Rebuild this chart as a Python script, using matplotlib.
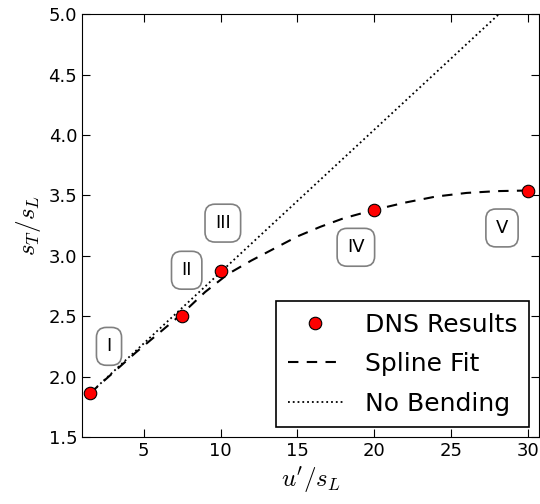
import numpy as np
import matplotlib
matplotlib.use("Agg")
import matplotlib.pyplot as plt

plt.rcParams['mathtext.fontset'] = 'cm'

# DNS data points
u_dns = [1.5, 7.5, 10, 20, 30]
st_dns = [1.86, 2.50, 2.87, 3.38, 3.54]

# spline fit curve
u_fit = [1.5, 3, 4.5, 6, 7.5, 9, 10.5, 12, 13.5, 15, 16.5, 18, 20, 22, 24, 26, 28, 30]
st_fit = [1.86, 2.03, 2.20, 2.36, 2.52, 2.70, 2.85, 2.96, 3.06, 3.16, 3.24, 3.31,
          3.38, 3.44, 3.49, 3.52, 3.535, 3.54]

# no bending line
u_lin = [1.5, 28.1]
st_lin = [1.86, 5.0]

# regime labels
regimes = ['I', 'II', 'III', 'IV', 'V']
reg_u = [2.75, 7.8, 10.15, 18.8, 28.3]
reg_st = [2.25, 2.88, 3.27, 3.07, 3.23]

fig = plt.figure(figsize=(5.4, 5.04), dpi=100)
ax = fig.add_axes([0.152, 0.133, 0.846, 0.839])

ax.plot(u_dns, st_dns, 'o', color='red', mec='black', mew=0.8, ms=9,
        label='DNS Results', zorder=5)
ax.plot(u_fit, st_fit, '--', color='black', lw=1.5, dashes=(5, 4), label='Spline Fit')
ax.plot(u_lin, st_lin, ':', color='black', lw=1.3, label='No Bending')

for lab, x, y in zip(regimes, reg_u, reg_st):
    ax.text(x, y, lab, fontsize=13, ha='center', va='center',
            bbox=dict(boxstyle='round,pad=0.55', fc='white', ec='gray', lw=1.2))

ax.set_xlim(1, 30.7)
ax.set_ylim(1.5, 5.0)
ax.set_xticks([5, 10, 15, 20, 25, 30])
ax.set_yticks(np.arange(1.5, 5.01, 0.5))
ax.tick_params(direction='in', top=True, right=True, length=6, labelsize=13)
ax.set_xlabel(r"$u'/s_L$", fontsize=18)
ax.set_ylabel(r"$s_T/s_L$", fontsize=18)

leg = ax.legend(loc='lower right', numpoints=1, fontsize=18, fancybox=False,
                framealpha=1, borderaxespad=0.4, handlelength=2.2,
                labelspacing=0.62, borderpad=0.45, handletextpad=0.9)
leg.get_frame().set_edgecolor('black')
leg.get_frame().set_linewidth(1.2)

fig.savefig('out.png', dpi=100)
